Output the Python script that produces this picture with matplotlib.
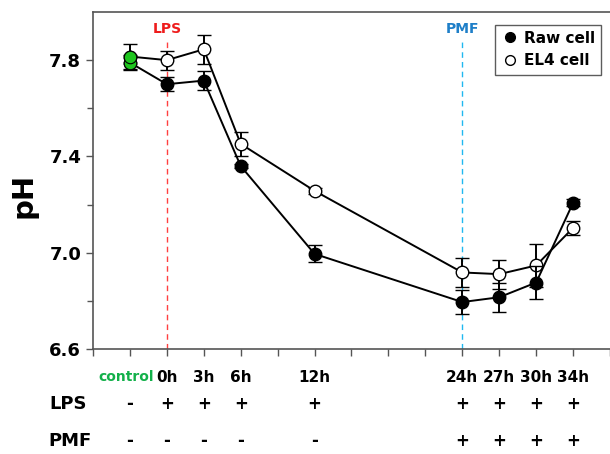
import matplotlib
matplotlib.use("Agg")
import matplotlib.pyplot as plt
from matplotlib.ticker import FixedLocator, MultipleLocator, FormatStrFormatter
import matplotlib.transforms as mtransforms
from matplotlib.lines import Line2D

# ---- data ----
time_labels = ["control", "0h", "3h", "6h", "12h", "24h", "27h", "30h", "34h"]
x_pos = [1, 2, 3, 4, 6, 10, 11, 12, 13]
raw_ph = [7.79, 7.70, 7.715, 7.36, 6.995, 6.795, 6.815, 6.876, 7.207]
raw_err = [0.03, 0.03, 0.04, 0.01, 0.035, 0.05, 0.06, 0.07, 0.015]
el4_ph = [7.815, 7.80, 7.845, 7.452, 7.257, 6.918, 6.911, 6.947, 7.103]
el4_err = [0.05, 0.04, 0.06, 0.05, 0.012, 0.06, 0.06, 0.09, 0.03]
lps_row = ["-", "+", "+", "+", "+", "+", "+", "+", "+"]
pmf_row = ["-", "-", "-", "-", "-", "+", "+", "+", "+"]
y_major = [6.6, 7.0, 7.4, 7.8]
y_minor = [6.8, 7.2, 7.6]
lps_x = 2
pmf_x = 10

plt.rcParams['font.family'] = ['DejaVu Sans']
fig = plt.figure(figsize=(6.10, 4.54), dpi=100)
ax = fig.add_axes([93/610, 1-349/454, 1-93/610, (349-12)/454])

green = "#1ec51e"
ms = 9
ax.errorbar(x_pos, el4_ph, yerr=el4_err, color="black", lw=1.4, marker="o", ms=ms,
            mfc="white", mec="black", mew=1.0, capsize=5, capthick=1.4, elinewidth=1.4,
            zorder=3)
ax.errorbar(x_pos, raw_ph, yerr=raw_err, color="black", lw=1.4, marker="o", ms=ms,
            mfc="black", mec="black", mew=1.0, capsize=5, capthick=1.4, elinewidth=1.4,
            zorder=4)
ax.plot([x_pos[0]], [raw_ph[0]], "o", ms=ms, mfc=green, mec="black", mew=0.8, zorder=5)
ax.plot([x_pos[0]], [el4_ph[0]], "o", ms=ms, mfc=green, mec="black", mew=0.8, zorder=6)

ax.plot([lps_x, lps_x], [6.6, 7.89], ls=(0, (4, 3)), color="#ff4040", lw=1.0, zorder=1)
ax.plot([pmf_x, pmf_x], [6.6, 7.88], ls=(0, (4, 3)), color="#20b8f0", lw=1.0, zorder=1)
ax.text(lps_x, 7.93, "LPS", color="#ee1c1c", fontsize=10, fontweight="bold", ha="center", va="center")
ax.text(pmf_x, 7.93, "PMF", color="#1e7fc8", fontsize=10, fontweight="bold", ha="center", va="center")

ax.set_xlim(0, 14)
ax.set_ylim(6.6, 8.0)
ax.yaxis.set_major_locator(FixedLocator(y_major))
ax.yaxis.set_minor_locator(FixedLocator(y_minor))
ax.yaxis.set_major_formatter(FormatStrFormatter("%.1f"))
ax.xaxis.set_major_locator(MultipleLocator(1))
ax.tick_params(axis="x", which="both", direction="out", length=5, width=1, color="#555555", labelbottom=False)
ax.tick_params(axis="y", which="major", direction="out", length=5, width=1, color="#555555",
               labelsize=13)
ax.tick_params(axis="y", which="minor", direction="out", length=4, width=1, color="#555555")
for lbl in ax.get_yticklabels():
    lbl.set_fontweight("bold")
for s in ["left", "bottom", "top"]:
    ax.spines[s].set_color("#555555")
    ax.spines[s].set_linewidth(1.2)
ax.spines["right"].set_visible(False)

def fy(py):
    return 1 - py / 454

fig.text(24/610, fy(195), "pH", rotation=90, ha="center", va="center",
         fontsize=21, fontweight="bold")

leg_h = [Line2D([], [], ls="none", marker="o", ms=7, mfc="black", mec="black"),
         Line2D([], [], ls="none", marker="o", ms=7, mfc="white", mec="black")]
leg = ax.legend(leg_h, ["Raw cell", "EL4 cell"], loc="upper right", bbox_to_anchor=(0.997, 0.985),
                frameon=True, fancybox=False, edgecolor="#333333", handletextpad=0.3,
                handlelength=1.2, borderpad=0.4, prop={"weight": "bold", "size": 11})
leg.get_frame().set_linewidth(1.0)

trans = mtransforms.blended_transform_factory(ax.transData, fig.transFigure)
for xi, lab in zip(x_pos, time_labels):
    if lab == "control":
        ax.text(xi - 0.1, fy(377), lab, transform=trans, ha="center", va="center",
                fontsize=10, fontweight="bold", color="#12b04a")
    else:
        ax.text(xi, fy(377), lab, transform=trans, ha="center", va="center",
                fontsize=11, fontweight="bold", color="black")
for xi, s in zip(x_pos, lps_row):
    ax.text(xi, fy(404), s, transform=trans, ha="center", va="center", fontsize=12,
            fontweight="bold", color="black")
for xi, s in zip(x_pos, pmf_row):
    ax.text(xi, fy(441), s, transform=trans, ha="center", va="center", fontsize=12,
            fontweight="bold", color="black")
fig.text(68/610, fy(404), "LPS", ha="center", va="center", fontsize=13, fontweight="bold")
fig.text(70/610, fy(441), "PMF", ha="center", va="center", fontsize=13, fontweight="bold")

fig.savefig("out.png", dpi=100)
